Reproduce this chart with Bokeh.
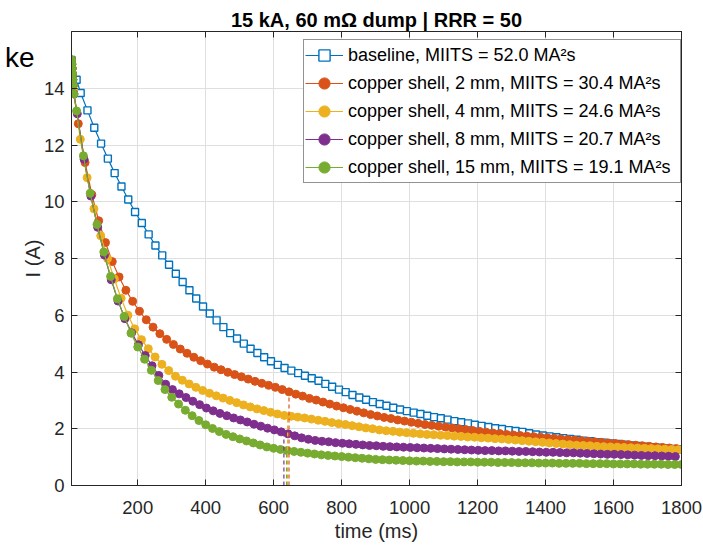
from bokeh.plotting import figure
from bokeh.models import Range1d, FixedTicker, LinearAxis, Legend, LegendItem
from bokeh.embed import file_html
from bokeh.resources import INLINE

FONT = "Liberation Sans"
INK = "#262626"

title_text = "15 kA, 60 m\u03a9 dump | RRR = 50"
x_label = "time (ms)"
y_label = "I (A)"
corner_text = "ke"
x_ticks = [200, 400, 600, 800, 1000, 1200, 1400, 1600, 1800]
y_ticks = [0, 2, 4, 6, 8, 10, 12, 14]

labels = [
    "baseline, MIITS = 52.0 MA\u00b2s",
    "copper shell, 2 mm, MIITS = 30.4 MA\u00b2s",
    "copper shell, 4 mm, MIITS = 24.6 MA\u00b2s",
    "copper shell, 8 mm, MIITS = 20.7 MA\u00b2s",
    "copper shell, 15 mm, MIITS = 19.1 MA\u00b2s",
]
colors = ["#0072BD", "#D95319", "#EDB120", "#7E2F8E", "#77AC30"]

# early, densely sampled points (shared start of the copper-shell runs)
early_t = [5, 6, 7, 8, 9, 10, 12]
early_I = [15.0, 14.85, 14.7, 14.5, 14.3, 14.1, 13.8]

baseline_t = [5, 20] + list(range(32, 1800, 20))
baseline_I = [15.0, 14.3,
              13.83, 13.22, 12.61, 12.05, 11.52, 11.01, 10.54, 10.08, 9.64, 9.25,
              8.85, 8.46, 8.11, 7.78, 7.46, 7.17, 6.88, 6.59, 6.31, 6.06,
              5.82, 5.58, 5.37, 5.18, 5.0, 4.82, 4.67, 4.52, 4.38, 4.25,
              4.14, 4.05, 3.96, 3.87, 3.78, 3.69, 3.58, 3.48, 3.38, 3.29,
              3.19, 3.10, 3.02, 2.94, 2.87, 2.81, 2.74, 2.68, 2.62, 2.57,
              2.52, 2.46, 2.41, 2.37, 2.32, 2.27, 2.23, 2.19, 2.14, 2.10,
              2.06, 2.02, 1.99, 1.95, 1.92, 1.89, 1.84, 1.80, 1.76, 1.73,
              1.70, 1.67, 1.64, 1.61, 1.58, 1.56, 1.53, 1.51, 1.48, 1.46,
              1.44, 1.41, 1.39, 1.37, 1.35, 1.33, 1.31, 1.29, 1.27]

cu2_t = early_t + list(range(25, 1800, 20))
cu2_I = early_I + [
    12.75, 11.38, 10.25, 9.33, 8.56, 7.89, 7.35, 6.88, 6.49, 6.14,
    5.84, 5.58, 5.35, 5.15, 4.97, 4.81, 4.66, 4.52, 4.40, 4.28,
    4.17, 4.08, 3.99, 3.91, 3.83, 3.75, 3.67, 3.60, 3.53, 3.46,
    3.38, 3.30, 3.22, 3.15, 3.07, 3.01, 2.94, 2.87, 2.80, 2.74,
    2.68, 2.62, 2.56, 2.50, 2.45, 2.40, 2.36, 2.31, 2.27, 2.23,
    2.19, 2.15, 2.12, 2.09, 2.06, 2.03, 2.00, 1.97, 1.94, 1.91,
    1.88, 1.85, 1.83, 1.80, 1.78, 1.76, 1.74, 1.72, 1.70, 1.68,
    1.66, 1.64, 1.62, 1.60, 1.58, 1.56, 1.54, 1.52, 1.50, 1.48,
    1.46, 1.44, 1.42, 1.40, 1.38, 1.36, 1.34, 1.32, 1.30]

cu4_t = early_t[:-1] + list(range(11, 1800, 20))
cu4_I = early_I[:-1] + [
    13.95, 12.2, 10.85, 9.75, 8.8, 8.0, 7.28, 6.6, 6.0, 5.52,
    5.14, 4.82, 4.53, 4.27, 4.05, 3.85, 3.71, 3.58, 3.46, 3.35,
    3.25, 3.16, 3.08, 3.0, 2.92, 2.84, 2.77, 2.70, 2.64, 2.58,
    2.52, 2.47, 2.44, 2.41, 2.38, 2.34, 2.30, 2.26, 2.22, 2.18,
    2.15, 2.11, 2.07, 2.03, 2.0, 1.96, 1.93, 1.91, 1.88, 1.86,
    1.84, 1.82, 1.80, 1.79, 1.77, 1.76, 1.74, 1.73, 1.71, 1.70,
    1.68, 1.67, 1.65, 1.64, 1.62, 1.60, 1.58, 1.56, 1.54, 1.52,
    1.50, 1.48, 1.46, 1.44, 1.42, 1.41, 1.40, 1.38, 1.37, 1.36,
    1.35, 1.34, 1.33, 1.32, 1.31, 1.30, 1.29, 1.28, 1.27, 1.26]

cu8_t = early_t + list(range(22, 1800, 20))
cu8_I = early_I + [
    13.1, 11.5, 10.2, 9.1, 8.12, 7.25, 6.5, 5.88, 5.38, 4.96,
    4.58, 4.22, 3.88, 3.57, 3.38, 3.23, 3.10, 2.97, 2.85, 2.73,
    2.63, 2.54, 2.46, 2.38, 2.31, 2.24, 2.16, 2.09, 2.02, 1.96,
    1.89, 1.82, 1.75, 1.68, 1.63, 1.59, 1.56, 1.54, 1.51, 1.49,
    1.47, 1.45, 1.43, 1.41, 1.40, 1.38, 1.37, 1.36, 1.35, 1.34,
    1.33, 1.32, 1.31, 1.30, 1.29, 1.28, 1.27, 1.26, 1.25, 1.24,
    1.23, 1.23, 1.22, 1.22, 1.21, 1.20, 1.20, 1.19, 1.18, 1.17,
    1.17, 1.16, 1.15, 1.15, 1.14, 1.13, 1.12, 1.11, 1.10, 1.10,
    1.09, 1.08, 1.07, 1.06, 1.05, 1.05, 1.04, 1.03, 1.02]

cu15_t = early_t + list(range(20, 1801, 20))
cu15_I = early_I + [
    13.2, 11.62, 10.3, 9.2, 8.23, 7.37, 6.58, 5.96, 5.37, 4.88,
    4.45, 4.06, 3.70, 3.38, 3.11, 2.87, 2.65, 2.46, 2.29, 2.14,
    2.01, 1.90, 1.80, 1.72, 1.64, 1.57, 1.50, 1.43, 1.36, 1.31,
    1.27, 1.23, 1.20, 1.17, 1.14, 1.11, 1.08, 1.06, 1.04, 1.02,
    1.00, 0.98, 0.96, 0.94, 0.92, 0.91, 0.90, 0.89, 0.88, 0.87,
    0.86, 0.86, 0.85, 0.85, 0.84, 0.84, 0.83, 0.83, 0.83, 0.82,
    0.82, 0.82, 0.81, 0.81, 0.81, 0.80, 0.80, 0.80, 0.79, 0.79,
    0.79, 0.78, 0.78, 0.78, 0.78, 0.77, 0.77, 0.77, 0.77, 0.76,
    0.76, 0.76, 0.76, 0.75, 0.75, 0.75, 0.75, 0.74, 0.74, 0.74]

# vertical dashed markers (2, 4, 8, 15 mm)
dash_t = [645, 641, 630, 638]
dash_top = [3.30, 2.45, 1.85, 1.24]
dash_colors = colors[1:]

series = [(baseline_t, baseline_I), (cu2_t, cu2_I), (cu4_t, cu4_I),
          (cu8_t, cu8_I), (cu15_t, cu15_I)]

p = figure(width=703, height=545, x_range=Range1d(5, 1800), y_range=Range1d(0, 16),
           output_backend="svg", toolbar_location=None, title=title_text,
           min_border_left=71, min_border_right=22, min_border_top=31,
           min_border_bottom=60)
p.background_fill_color = "white"
p.border_fill_color = "white"
p.outline_line_color = INK
p.outline_line_width = 1

p.title.align = "center"
p.title.text_font = FONT
p.title.text_font_size = "20px"
p.title.text_font_style = "bold"
p.title.text_color = "black"
p.title.standoff = 1

for ax, ticks, standoff in ((p.xaxis[0], x_ticks, 15), (p.yaxis[0], y_ticks, 7)):
    ax.ticker = FixedTicker(ticks=ticks)
    ax.major_tick_in = 6
    ax.major_tick_out = 0
    ax.minor_tick_in = 0
    ax.minor_tick_out = 0
    ax.axis_line_color = INK
    ax.major_tick_line_color = INK
    ax.major_label_text_font = FONT
    ax.major_label_text_font_size = "18.5px"
    ax.major_label_text_color = INK
    ax.major_label_standoff = standoff
    ax.axis_label_text_font = FONT
    ax.axis_label_text_font_size = "20px"
    ax.axis_label_text_font_style = "normal"
    ax.axis_label_text_color = INK

p.xaxis.axis_label = x_label
p.xaxis.axis_label_standoff = 3
p.yaxis.axis_label = y_label
p.yaxis.axis_label_standoff = -3

p.xgrid.ticker = FixedTicker(ticks=x_ticks)
p.ygrid.ticker = FixedTicker(ticks=y_ticks)
for g in (p.xgrid, p.ygrid):
    g.grid_line_color = "#dfdfdf"
    g.grid_line_width = 1

for side, ticks in (("right", y_ticks), ("above", x_ticks)):
    ax = LinearAxis(ticker=FixedTicker(ticks=ticks))
    ax.major_tick_in = 6
    ax.major_tick_out = 0
    ax.minor_tick_in = 0
    ax.minor_tick_out = 0
    ax.axis_line_color = INK
    ax.major_tick_line_color = INK
    ax.major_label_text_font_size = "1px"
    ax.major_label_text_color = None
    ax.major_label_standoff = 0
    p.add_layout(ax, side)

# stray text fragment at the top-left corner, carried by an outer left axis
ke_axis = LinearAxis(ticker=FixedTicker(ticks=[15.1]),
                     major_label_overrides={15.1: corner_text})
ke_axis.axis_line_color = None
ke_axis.major_tick_line_color = None
ke_axis.minor_tick_line_color = None
ke_axis.major_tick_out = 0
ke_axis.major_tick_in = 0
ke_axis.major_label_text_font = FONT
ke_axis.major_label_text_font_size = "28px"
ke_axis.major_label_text_color = "black"
ke_axis.major_label_standoff = -16
p.add_layout(ke_axis, "left")

items = []
for i, ((t, I), col, lab) in enumerate(zip(series, colors, labels)):
    n = min(len(t), len(I))
    t, I = t[:n], I[:n]
    lr = p.line(t, I, line_color=col, line_width=1.2)
    if i == 0:
        sr = p.scatter(t, I, marker="square", size=7, line_color=col, line_width=1.4,
                       fill_color="white")
    else:
        sr = p.scatter(t, I, marker="circle", size=8, line_color=col, line_width=1,
                       fill_color=col)
    items.append(LegendItem(label=lab, renderers=[lr, sr]))

p.segment(x0=dash_t, y0=[0] * len(dash_t), x1=dash_t, y1=dash_top,
          line_color=dash_colors, line_dash="4 3", line_width=1.2)

legend = Legend(items=items, location=(232, 302))
legend.label_text_font = FONT
legend.label_text_font_size = "18px"
legend.label_text_color = "black"
legend.glyph_width = 38
legend.glyph_height = 28
legend.label_height = 28
legend.label_width = 331
legend.label_standoff = 5
legend.padding = 1
legend.spacing = 0
legend.margin = 0
legend.border_line_color = INK
legend.border_line_width = 1
legend.background_fill_color = "white"
legend.background_fill_alpha = 1
p.add_layout(legend)

open("out.html", "w").write(file_html(p, INLINE))
